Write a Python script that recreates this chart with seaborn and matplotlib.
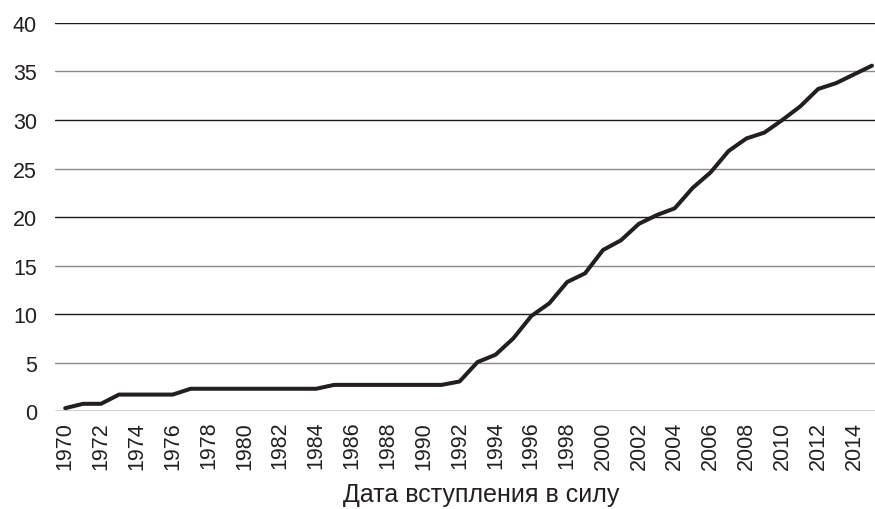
import numpy as np
import pandas as pd
import matplotlib
matplotlib.use('Agg')
import matplotlib.pyplot as plt
import seaborn as sns

# Data
years = list(range(1970, 2016))
values = [0.3, 0.75, 0.75, 1.7, 1.7, 1.7, 1.7, 2.3, 2.3, 2.3,
          2.3, 2.3, 2.3, 2.3, 2.3, 2.7, 2.7, 2.7, 2.7, 2.7,
          2.7, 2.7, 3.05, 5.05, 5.8, 7.5, 9.8, 11.1, 13.3, 14.2,
          16.6, 17.6, 19.3, 20.2, 20.9, 23.0, 24.6, 26.8, 28.1, 28.7,
          30.0, 31.4, 33.2, 33.8, 34.7, 35.6]
y_ticks = [0, 5, 10, 15, 20, 25, 30, 35, 40]
x_ticks = list(range(1970, 2016, 2))
x_label = 'Дата вступления в силу'

df = pd.DataFrame({'year': years, 'value': values})

sns.set_style('white')
plt.rcParams['font.family'] = ['Liberation Sans', 'DejaVu Sans']

fig = plt.figure(figsize=(8.75, 5.1), dpi=100)
ax = fig.add_axes([0.063, 0.192, 0.937, 0.761])

# horizontal gridlines (alternating tones like the reference)
for i, t in enumerate(y_ticks):
    ax.axhline(t, color='#1a1a1a' if i % 2 == 0 else '#8a8a8a',
               linewidth=1.0, zorder=1)

sns.lineplot(data=df, x='year', y='value', ax=ax, color='#231f20',
             linewidth=2.9, zorder=3)

ax.set_xlim(1969.44, 2015.17)
ax.set_ylim(0, 40)
ax.set_yticks(y_ticks)
ax.set_xticks(x_ticks)
ax.set_xticklabels([str(x) for x in x_ticks], rotation=90)
ax.tick_params(axis='both', length=0, colors='#231f20')
ax.tick_params(axis='y', pad=13, labelsize=15.5)
ax.tick_params(axis='x', pad=7, labelsize=15.5)
ax.set_xlabel(x_label, fontsize=18, color='#231f20')
ax.xaxis.set_label_coords(0.52, -0.183)
ax.set_ylabel('')
for s in ax.spines.values():
    s.set_visible(False)

fig.savefig('out.png', dpi=100)
